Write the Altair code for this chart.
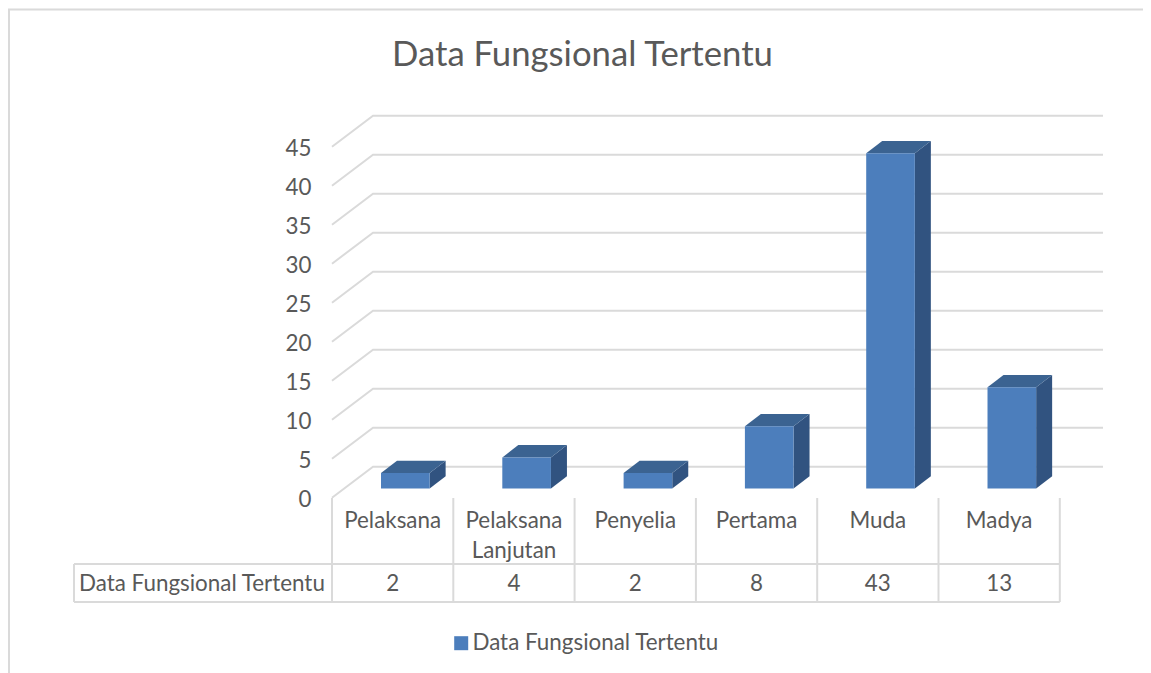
import altair as alt
import pandas as pd

CATEGORIES = ["Pelaksana", "Pelaksana\nLanjutan", "Penyelia", "Pertama", "Muda", "Madya"]
VALUES = [2, 4, 2, 8, 43, 13]
TICKS = [0, 5, 10, 15, 20, 25, 30, 35, 40, 45]
SERIES = "Data Fungsional Tertentu"

W, H = 1135, 665
FONT = "Lato"
FS = 22.4
GREY = "#595959"
LINE = "#DADADA"
LW = 2
FRONT, TOP, SIDE = "#4C7EBC", "#3B6391", "#315380"

PX_PER_UNIT = 7.8
CELL = 121.3
ORIGIN_X = 332.0
BACK_ZERO_Y = 466.7


def cx(page_x):
    return (page_x - ORIGIN_X) / CELL


def vy(page_y):
    return (BACK_ZERO_Y - page_y) / PX_PER_UNIT


def py(page_y):
    return page_y - 8


def px(page_x):
    return page_x - 8


xs = alt.Scale(domain=[cx(8), cx(8 + W)], nice=False, zero=False)
ys = alt.Scale(domain=[vy(8 + H), vy(8)], nice=False, zero=False)
AXIS = alt.Axis(
    values=TICKS,
    title=None,
    offset=-(311 - 8),
    domain=False,
    ticks=False,
    grid=False,
    labelPadding=0,
    labelOffset=32.5,
    labelFont=FONT,
    labelFontSize=FS,
    labelColor=GREY,
    labelBound=False,
    labelFlush=False,
    labelOverlap=False,
)
X = lambda f: alt.X(f, type="quantitative", scale=xs, axis=None)
Y = lambda f: alt.Y(f, type="quantitative", scale=ys, axis=AXIS)

# depth geometry, in data units
BAR_L, BAR_R = 0.404, 0.805
DX, DY = cx(ORIGIN_X + 16), 12.3 / PX_PER_UNIT
BAR_SHIFT = 21.9 / PX_PER_UNIT
WALL_DX, WALL_DY = cx(373), 31.0 / PX_PER_UNIT
WALL_END = cx(1103)

bars = pd.DataFrame({"cat": CATEGORIES, "value": VALUES, "series": SERIES})
bars["i"] = range(len(bars))
bars["x0"] = bars["i"] + BAR_L
bars["x1"] = bars["i"] + BAR_R
bars["y0"] = -BAR_SHIFT
bars["y1"] = bars["value"] - BAR_SHIFT
bars["mid"] = bars["i"] + 0.5

side_rows, top_rows, grid_rows = [], [], []
for r in bars.itertuples():
    side_rows += [
        {"i": r.i, "x": r.x1, "a": r.y1, "b": r.y0},
        {"i": r.i, "x": r.x1 + DX, "a": r.y1 + DY, "b": r.y0 + DY},
    ]
    top_rows += [
        {"i": r.i, "y": r.y1, "l": r.x0, "r": r.x1},
        {"i": r.i, "y": r.y1 + DY, "l": r.x0 + DX, "r": r.x1 + DX},
    ]
for t in TICKS:
    grid_rows += [
        {"t": t, "x": 0.0, "y": t - WALL_DY},
        {"t": t, "x": WALL_DX, "y": t},
        {"t": t, "x": WALL_END, "y": t},
    ]
side_df, top_df, grid_df = map(pd.DataFrame, (side_rows, top_rows, grid_rows))

base = alt.Chart(bars)

grid = (
    alt.Chart(grid_df)
    .mark_line(color=LINE, strokeWidth=LW)
    .encode(x=X("x"), y=Y("y"), detail="t:N")
)

# table lines
vlines = pd.DataFrame({"x": [float(i) for i in range(len(CATEGORIES) + 1)]})
table_v = (
    alt.Chart(vlines)
    .mark_rule(color=LINE, strokeWidth=LW)
    .encode(x=X("x"), y=alt.value(py(498)), y2=alt.value(py(602)))
)
table_h = (
    alt.Chart(pd.DataFrame({"k": [0]}))
    .mark_rule(color=LINE, strokeWidth=LW)
    .encode(
        x=alt.value(px(74)),
        x2=alt.value(px(ORIGIN_X + CELL * len(CATEGORIES))),
        y=alt.value(py(564)),
    )
)
table_h2 = (
    alt.Chart(pd.DataFrame({"k": [0]}))
    .mark_rule(color=LINE, strokeWidth=LW)
    .encode(
        x=alt.value(px(74)),
        x2=alt.value(px(ORIGIN_X + CELL * len(CATEGORIES))),
        y=alt.value(py(602)),
    )
)
table_left = (
    alt.Chart(pd.DataFrame({"k": [0]}))
    .mark_rule(color=LINE, strokeWidth=LW)
    .encode(x=alt.value(px(74)), y=alt.value(py(564)), y2=alt.value(py(602)))
)

# outer chart frame
frame_top = (
    alt.Chart(pd.DataFrame({"k": [0]}))
    .mark_rule(color=LINE, strokeWidth=LW)
    .encode(x=alt.value(0), x2=alt.value(W), y=alt.value(py(9.5)))
)
frame_left = (
    alt.Chart(pd.DataFrame({"k": [0]}))
    .mark_rule(color=LINE, strokeWidth=LW)
    .encode(x=alt.value(1), y=alt.value(py(9.5)), y2=alt.value(H))
)

# bars: side, top, then front
side = (
    alt.Chart(side_df)
    .mark_area(color=SIDE)
    .encode(x=X("x"), y=Y("a"), y2="b", detail="i:N")
)
top = (
    alt.Chart(top_df)
    .mark_area(color=TOP, orient="horizontal")
    .encode(y=Y("y"), x=X("l"), x2="r", detail="i:N")
)
front = base.mark_bar().encode(
    x=X("x0"),
    x2="x1",
    y=Y("y0"),
    y2="y1",
    color=alt.Color(
        "series:N",
        scale=alt.Scale(range=[FRONT]),
        legend=alt.Legend(
            title=None,
            orient="none",
            legendX=px(450),
            legendY=py(632),
            symbolType="square",
            symbolSize=196,
            symbolStrokeWidth=0,
            labelFont=FONT,
            labelFontSize=FS,
            labelColor=GREY,
            labelOffset=0,
            labelLimit=400,
        ),
    ),
)

# table text
cat_text = base.mark_text(
    font=FONT, fontSize=FS, color=GREY, lineBreak="\n", lineHeight=30, align="center"
).encode(x=X("mid"), y=alt.value(py(521)), text="cat:N")
val_text = base.mark_text(font=FONT, fontSize=FS, color=GREY, align="center").encode(
    x=X("mid"), y=alt.value(py(584)), text="value:Q"
)
head_text = (
    alt.Chart(pd.DataFrame({"s": [SERIES]}))
    .mark_text(font=FONT, fontSize=FS, color=GREY, align="left")
    .encode(x=alt.value(px(79)), y=alt.value(py(584)), text="s:N")
)

chart = (
    alt.layer(
        frame_top, frame_left, grid, table_v, table_h, table_h2, table_left,
        side, top, front, cat_text, val_text, head_text,
    )
    .resolve_scale(x="shared", y="shared")
    .properties(
        width=W,
        height=H,
        padding=0,
        autosize=alt.AutoSizeParams(type="none"),
        background="white",
        title=alt.TitleParams(
            "Data Fungsional Tertentu",
            font=FONT,
            fontSize=34.7,
            fontWeight="normal",
            color=GREY,
            anchor="start",
            dx=px(393),
            offset=-66,
        ),
    )
    .configure_view(stroke=None)
)

chart.save("out.html", embed_options={"renderer": "svg", "actions": False})
